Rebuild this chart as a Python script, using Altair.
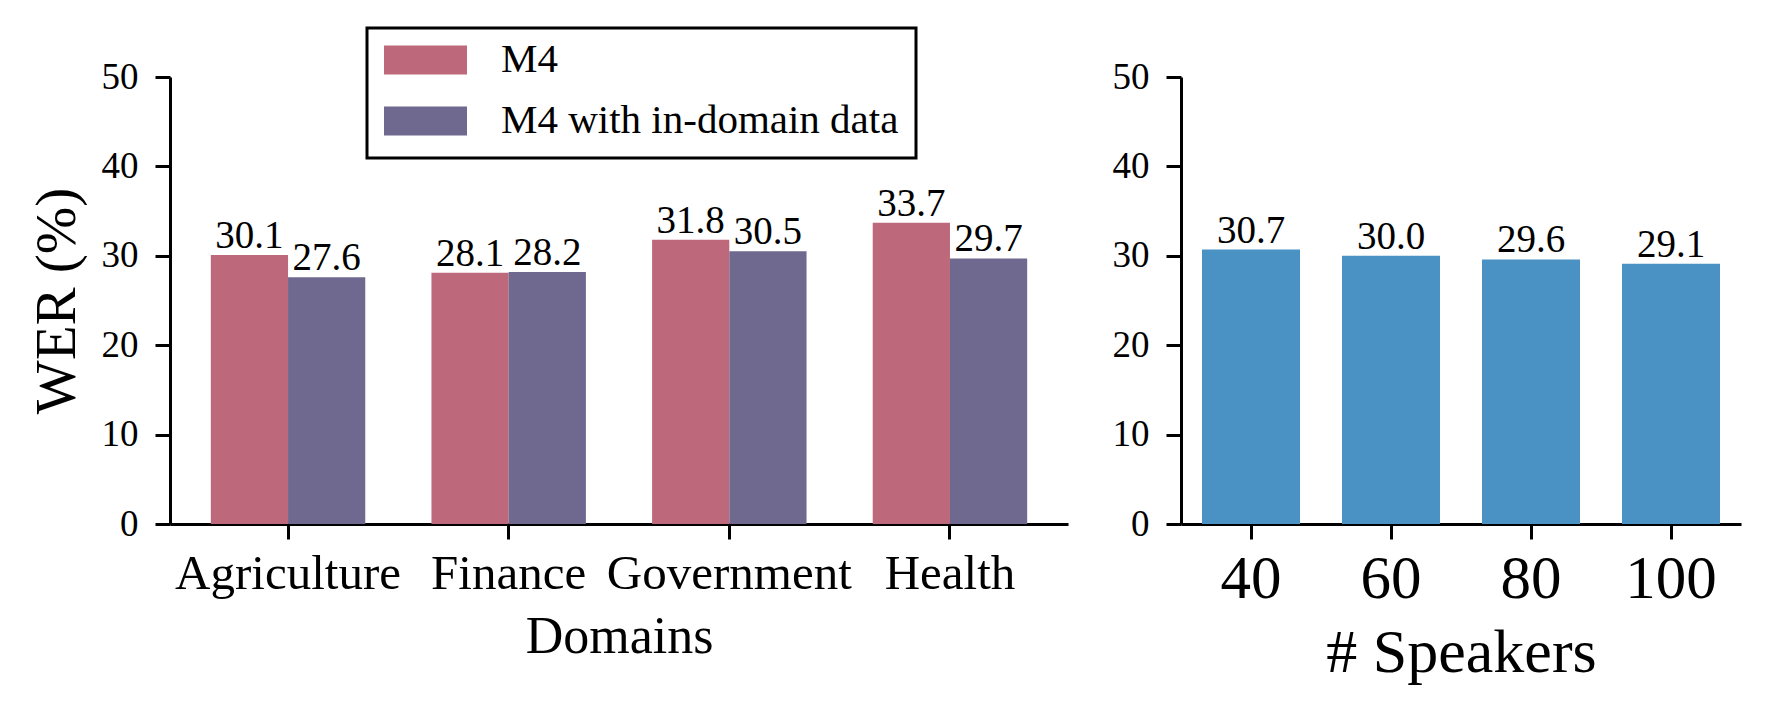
import altair as alt
import pandas as pd

# ---- data ----
domains = ["Agriculture", "Finance", "Government", "Health"]
series = ["M4", "M4 with in-domain data"]
wer_m4 = [30.1, 28.1, 31.8, 33.7]
wer_indomain = [27.6, 28.2, 30.5, 29.7]
speakers = ["40", "60", "80", "100"]
wer_speakers = [30.7, 30.0, 29.6, 29.1]
y_ticks = [0, 10, 20, 30, 40, 50]

colors = ["#BD687B", "#6F688F"]
blue = "#4B92C4"
FONT = "Liberation Serif"

left_df = pd.DataFrame({
    "domain": domains * 2,
    "series": [series[0]] * len(domains) + [series[1]] * len(domains),
    "wer": wer_m4 + wer_indomain,
})
left_df["label"] = left_df["wer"].map(lambda v: f"{v:.1f}")

right_df = pd.DataFrame({"speakers": speakers, "wer": wer_speakers})
right_df["label"] = right_df["wer"].map(lambda v: f"{v:.1f}")

y_axis_common = dict(values=y_ticks, labelFontSize=37, tickSize=15, labelPadding=17)

# ---- left panel ----
x_left = alt.X(
    "domain:N", sort=domains, title="Domains",
    scale=alt.Scale(paddingInner=0.3, paddingOuter=0.185),
    axis=alt.Axis(labelAngle=0, labelFontSize=49, titleFontSize=52,
                  tickSize=15, labelPadding=10, titlePadding=13,
                  labelLimit=1000, labelOverlap=False),
)
xoff = alt.XOffset("series:N", sort=series,
                   scale=alt.Scale(paddingInner=0, paddingOuter=0))
y_left = alt.Y(
    "wer:Q", scale=alt.Scale(domain=[0, 50], nice=False),
    axis=alt.Axis(title="WER (%)", titleFontSize=57, titlePadding=15, **y_axis_common),
)

bars_left = alt.Chart(left_df).mark_bar().encode(
    x=x_left, xOffset=xoff, y=y_left,
    color=alt.Color(
        "series:N", sort=series,
        scale=alt.Scale(domain=series, range=colors),
        legend=alt.Legend(
            title=None, orient="none", legendX=197, legendY=-49,
            symbolType="M-1,-0.35L1,-0.35L1,0.35L-1,0.35Z",
            symbolSize=6889, symbolStrokeWidth=0, symbolOpacity=1,
            labelFontSize=41, labelFont=FONT, labelColor="black",
            labelOffset=34, padding=17, strokeColor="black",
            rowPadding=20, clipHeight=30, labelLimit=800,
        ),
    ),
)
text_left = alt.Chart(left_df).mark_text(
    baseline="alphabetic", dy=-7, fontSize=39, font=FONT, color="black"
).encode(x=x_left, xOffset=xoff, y=y_left, text="label:N")

left = alt.layer(bars_left, text_left).properties(width=898, height=447)

# ---- right panel ----
x_right = alt.X(
    "speakers:N", sort=speakers, title="# Speakers",
    scale=alt.Scale(paddingInner=0.3, paddingOuter=0.15),
    axis=alt.Axis(labelAngle=0, labelFontSize=61, titleFontSize=62,
                  tickSize=15, labelPadding=10, titlePadding=13,
                  labelLimit=1000, labelOverlap=False),
)
y_right = alt.Y(
    "wer:Q", scale=alt.Scale(domain=[0, 50], nice=False),
    axis=alt.Axis(title=None, **y_axis_common),
)
bars_right = alt.Chart(right_df).mark_bar(color=blue).encode(x=x_right, y=y_right)
text_right = alt.Chart(right_df).mark_text(
    baseline="alphabetic", dy=-7, fontSize=39, font=FONT, color="black"
).encode(x=x_right, y=y_right, text="label:N")
right = alt.layer(bars_right, text_right).properties(width=560, height=447)

chart = (
    alt.hconcat(left, right, spacing=44)
    .properties(padding={"left": 20, "top": 18, "right": 5, "bottom": 5})
    .configure_view(stroke=None)
    .configure_axis(
        grid=False, domainColor="black", tickColor="black", domainWidth=3,
        tickWidth=3, labelColor="black", titleColor="black",
        labelFont=FONT, titleFont=FONT, titleFontWeight="normal",
    )
    .configure_legend(strokeWidth=3)
)

chart.save("out.html", embed_options={"renderer": "svg", "actions": False})
